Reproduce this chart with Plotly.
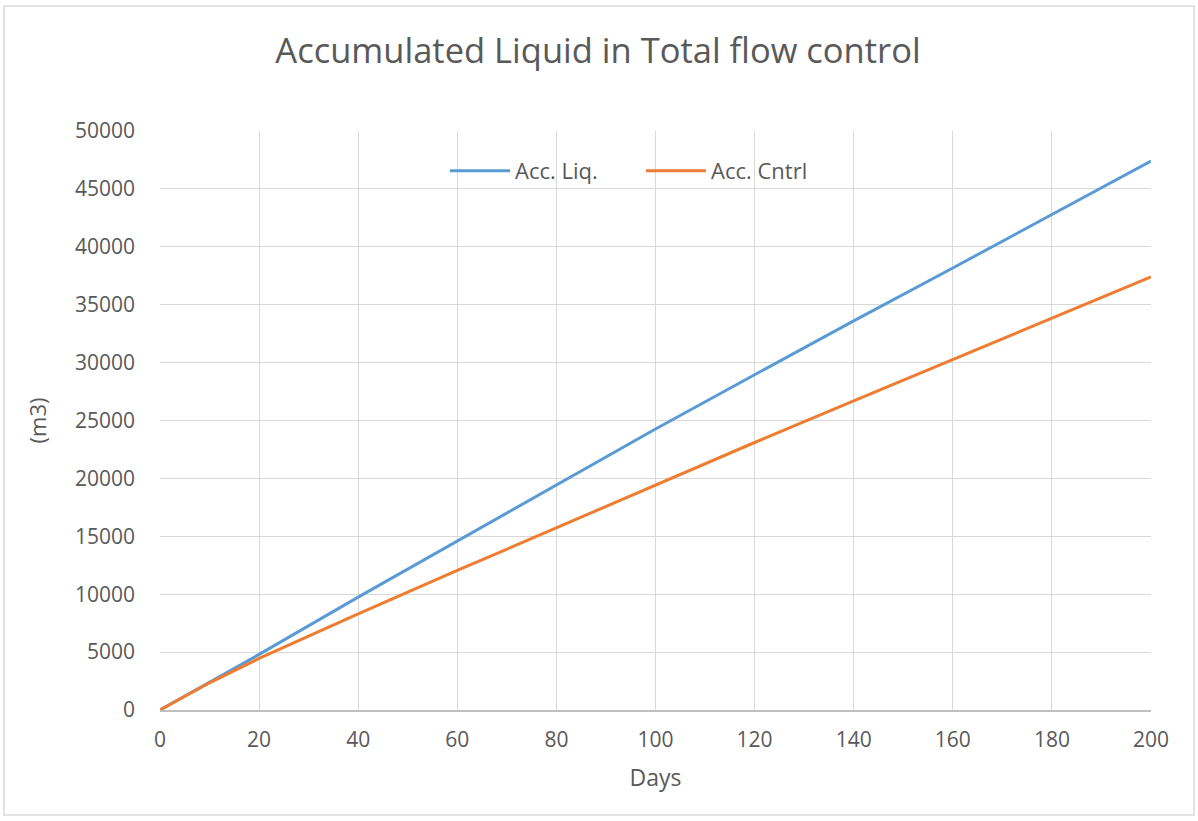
import plotly.graph_objects as go

# Accumulated volumes (m3) by day
days = [0, 10, 20, 40, 60, 80, 100, 120, 140, 160, 180, 200]
acc_liq = [0, 2420, 4800, 9750, 14600, 19430, 24270, 28950, 33600, 38170, 42800, 47400]
acc_cntrl = [0, 2350, 4450, 8300, 12050, 15750, 19450, 23100, 26700, 30250, 33800, 37400]

x_ticks = list(range(0, 201, 20))
y_ticks = list(range(0, 50001, 5000))

text_color = "#595959"
grid_color = "#d9d9d9"
font_family = "Open Sans, Noto Sans, sans-serif"

fig = go.Figure()
fig.add_trace(go.Scatter(x=days, y=acc_liq, mode="lines", name="Acc. Liq.",
                         line=dict(color="#5B9BD5", width=3)))
fig.add_trace(go.Scatter(x=days, y=acc_cntrl, mode="lines", name="Acc. Cntrl",
                         line=dict(color="#ED7D31", width=3)))

W, H = 1198, 821
L, R, T, B = 160, 47, 131, 111
pw, ph = W - L - R, H - T - B

# outer chart frame
fig.add_shape(type="rect", xref="paper", yref="paper",
              x0=(4 - L) / pw, x1=(W - 4 - L) / pw,
              y0=(H - B - (H - 6)) / ph, y1=(H - B - 6) / ph,
              line=dict(color="#d9d9d9", width=1.5), layer="below")

fig.update_layout(
    width=W, height=H,
    margin=dict(l=L, r=R, t=T, b=B),
    paper_bgcolor="white", plot_bgcolor="white",
    font=dict(family=font_family, color=text_color, size=21),
    title=dict(text="Accumulated Liquid in Total flow control",
               x=598 / W, xref="container", xanchor="center",
               y=1 - 51 / H, yanchor="middle",
               font=dict(size=34.5, color=text_color, family=font_family)),
    legend=dict(orientation="h", x=(445 - L) / pw, xanchor="left",
                y=(H - B - 171) / ph, yanchor="middle",
                bgcolor="rgba(0,0,0,0)", itemwidth=60, entrywidth=121,
                font=dict(size=22, color=text_color)),
    showlegend=True,
)
fig.update_xaxes(range=[0, 200], tickvals=x_ticks, tickformat="d", showgrid=True,
                 gridcolor=grid_color, gridwidth=1.2, zeroline=False, showline=True,
                 linecolor="#bfbfbf", linewidth=1.5, ticks="", ticklabelstandoff=10,
                 tickfont=dict(size=21),
                 title=dict(text="Days", standoff=18, font=dict(size=23)))
fig.update_yaxes(range=[0, 50000], tickvals=y_ticks, tickformat="d", showgrid=True,
                 gridcolor=grid_color, gridwidth=1.2, zeroline=False, showline=False,
                 ticks="", ticklabelstandoff=24, tickfont=dict(size=21),
                 title=dict(text="(m3)", standoff=22, font=dict(size=22)))

fig.write_html("out.html")
